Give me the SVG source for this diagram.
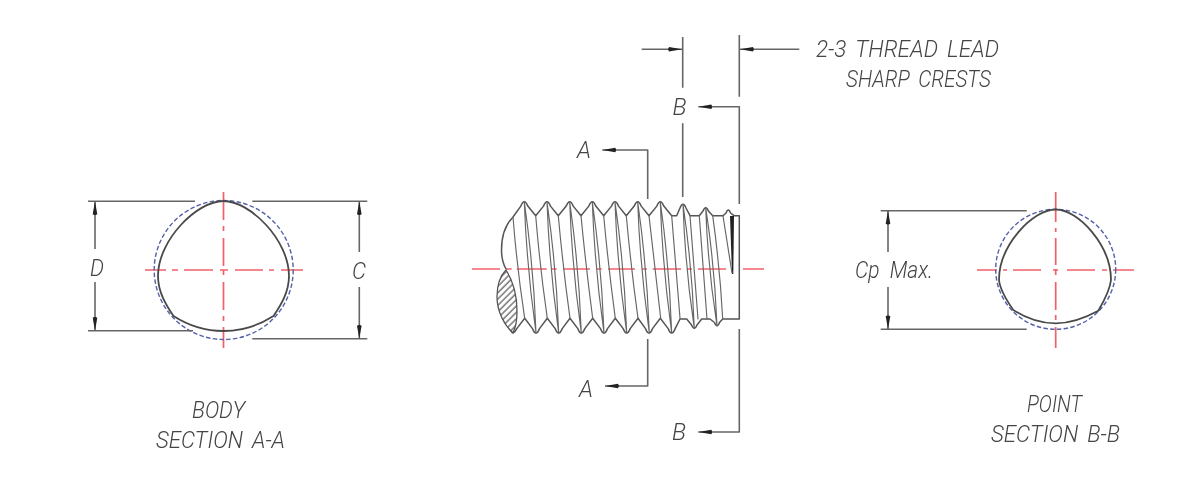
<svg xmlns="http://www.w3.org/2000/svg" width="1200" height="485" viewBox="0 0 1200 485">
<style>
.l{fill:none;stroke:#666;stroke-width:1.6;stroke-linejoin:round;stroke-linecap:butt}
.th{fill:none;stroke:#666;stroke-width:1.15;stroke-linecap:round}
.o{fill:none;stroke:#4a4a4a;stroke-width:1.8;stroke-linejoin:round}
.s{fill:none;stroke:#555;stroke-width:1.5;stroke-linejoin:round}
.c{fill:none;stroke:#f4606a;stroke-width:1.7}
.d{fill:none;stroke:#5560a8;stroke-width:1.4;stroke-dasharray:4.5 2.3}
.t{font-family:Roboto,"Liberation Sans",Arial,sans-serif;font-style:italic;font-weight:300;font-size:24px;fill:#444;word-spacing:4px}
.a{marker-end:url(#ah)}
</style>
<defs>
<marker id="ah" markerUnits="userSpaceOnUse" markerWidth="15" markerHeight="7" refX="14" refY="3.5" orient="auto"><path d="M0 3.500L1 1.200L14 3.500L1 5.800Z" fill="#222"/></marker>
<pattern id="hat" patternUnits="userSpaceOnUse" width="4.500" height="4.500" patternTransform="rotate(-45)"><path d="M0 1H4.500" stroke="#555" stroke-width="1.2"/></pattern>
<filter id="soft" x="-5%" y="-5%" width="110%" height="110%"><feGaussianBlur stdDeviation="0.35"/></filter>
</defs>
<rect width="1200" height="485" fill="#fff"/>
<g id="section-a" filter="url(#soft)">
<path class="c" d="M145 270H166M172 270H178M184 270H213M220 270H228M235 270H263M269 270H274M281 270H303M223.500 192V220M223.500 226V231M223.500 238V266M223.500 270V275M223.500 282V310M223.500 316V321M223.500 327V348"/>
<circle class="d" cx="223.700" cy="270" r="69.500"/>
<path class="o" d="M223.500 201C250 201 289 240 289 276C289 292 281 305 273.500 316C258 326 240 331 223.500 331C207 331 189 326 173.500 316C166 305 158 292 158 276C158 240 197 201 223.500 201Z"/>
<text class="t" x="192" y="418" textLength="53" lengthAdjust="spacingAndGlyphs">BODY</text>
<text class="t" x="156" y="448" textLength="129" lengthAdjust="spacingAndGlyphs">SECTION A-A</text>
</g>
<g id="screw" filter="url(#soft)">
<path class="c" d="M472 269H500M505.700 269H511.700M516.700 269H546.700M551.700 269H556.700M563 269H590M596.700 269H601.700M608 269H635M642 269H647M652.700 269H681M687 269H692M698 269H726M743 269H764"/>
<path fill="url(#hat)" stroke="#555" stroke-width="1.3" d="M506 270C499 277 497 287 497 297C497 312 505 326 513 333C517 325 517 318 517 311C517 296 513 281 506 270Z"/>
<path class="s" d="M506 269C502 262 501.500 256 501.500 250C501.500 235 506 224 513 217L520.800 206.100Q524.300 197.300 527.800 206.100L535.700 215.700L543.500 206.100Q547 197.300 550.500 206.100L558.300 215.700L566.200 206.100Q569.700 197.300 573.200 206.100L581 215.700L588.800 206.100Q592.300 197.300 595.800 206.100L603.700 215.700L611.500 206.100Q615 197.300 618.500 206.100L626.300 215.700L634.200 206.100Q637.700 197.300 641.200 206.100L649 215.700L656.800 206.100Q660.300 197.300 663.800 206.100L671.700 215.700L676.700 215.700L680 208Q683 200.600 686 208L690 215.700L699.300 215.700L703 211Q705.700 204.400 708.400 211L712.700 215.700L723 215.700L726 213Q728.300 207 730.600 213L734 215.700L739.300 215.700V319H722.700L719.500 322.500Q717 329 714.500 322.500L710 319H701.700L697 325Q694.300 331.600 691.600 325L686.700 319H680L675.200 328.600Q671.700 337.400 668.200 328.600L660.300 318.300L652.500 328.600Q649 337.400 645.500 328.600L638 318.300L630.200 328.600Q626.700 337.400 623.200 328.600L615.300 318.300L607.500 328.600Q604 337.400 600.500 328.600L592.700 318.300L584.800 328.600Q581.300 337.400 577.800 328.600L570 318.300L562.200 328.600Q558.700 337.400 555.200 328.600L547.300 318.300L539.500 328.600Q536 337.400 532.500 328.600L524.700 318.300L516.800 328.600Q513.300 335.500 511 331"/>
<path class="th" d="M513 217Q517 268 524.700 318.300M535.700 215.700Q540 268 547.300 318.300M558.300 215.700Q563 268 570 318.300M581 215.700Q586 268 592.700 318.300M603.700 215.700Q608.500 268 615.300 318.300M626.300 215.700Q631 268 638 318.300M649 215.700Q655 268 660.700 318.300M671.700 215.700Q676 268 680 318.300M690 215.700Q694 268 698 319M699.300 215.700Q703 268 707 319M712.700 215.700Q720 268 722.700 319"/>
<path class="th" d="M524.300 202Q526.700 267 536 333M524.300 202Q533.700 267 536 333M547 202Q549.300 267 558.700 333M547 202Q556.400 267 558.700 333M569.700 202Q572 267 581.300 333M569.700 202Q579 267 581.300 333M592.300 202Q594.600 267 604 333M592.300 202Q601.700 267 604 333M615 202Q617.300 267 626.700 333M615 202Q624.400 267 626.700 333M637.700 202Q640 267 649.300 333M637.700 202Q647 267 649.300 333M660.300 202Q662.500 267 671.700 333M660.300 202Q669.500 267 671.700 333M683 204.300Q685.100 267 694.300 328.300M683 204.300Q692.200 267 694.300 328.300M705.700 207.700Q707.800 267 717 325.700M705.700 207.700Q714.800 267 717 325.700"/>
<path d="M730 216L734 216L733.300 274L732 274Z" fill="#222"/>
<path class="th" d="M723 216L732 273"/>
</g>
<g id="section-b" filter="url(#soft)">
<path class="c" d="M977 270H997M1003 270H1007M1013 270H1041M1053 270H1058M1067 270H1095M1102 270H1107M1113 270H1134M1055.700 192V222M1055.700 228V232M1055.700 238V265M1055.700 269V275M1055.700 282V310M1055.700 315V320M1055.700 327V348"/>
<circle class="d" cx="1055.700" cy="269.300" r="60"/>
<path class="o" d="M1055.700 209.500C1078 209.500 1111 245 1111 280C1110 290 1104 301 1098.300 310.700C1085 318 1070 323.300 1055.700 323.300C1041 323.300 1026 318 1013.300 310C1007 301 1000 290 999 280C999 245 1033 209.500 1055.700 209.500Z"/>
<text class="t" x="1027" y="412" textLength="55" lengthAdjust="spacingAndGlyphs">POINT</text>
<text class="t" x="991" y="442" textLength="129" lengthAdjust="spacingAndGlyphs">SECTION B-B</text>
</g>
<g id="connectors" filter="url(#soft)">
<path class="l" d="M88 201.300H195M88 330.700H193M252.300 201.300H367.300M252.300 338.700H367.300M880.700 210.700H1026.700M880.700 329.300H1026.700"/>
<path class="l a" d="M95 249V201.300"/><path class="l a" d="M95 282V330.700"/>
<path class="l a" d="M359.300 252V201.300"/><path class="l a" d="M359.300 287V338.700"/>
<path class="l a" d="M888 252V210.700"/><path class="l a" d="M888 287V329.300"/>
<path class="l" d="M682.700 37V87.700M682.700 123.300V197M739.300 35V96.700"/>
<path class="l a" d="M641.700 49.300H682"/><path class="l a" d="M799.300 49.300H740"/>
<path class="l a" d="M739.300 204V106.700H698.300"/>
<path class="l a" d="M647.700 199V150H602.300"/>
<path class="l a" d="M647.700 339V386H605"/>
<path class="l a" d="M739.300 329V432H698.300"/>
</g>
<g id="labels" filter="url(#soft)">
<text class="t" x="816" y="57.300" textLength="183" lengthAdjust="spacingAndGlyphs">2-3 THREAD LEAD</text>
<text class="t" x="846" y="86.700" textLength="145" lengthAdjust="spacingAndGlyphs">SHARP CRESTS</text>
<text class="t" x="672.500" y="115" textLength="14" lengthAdjust="spacingAndGlyphs">B</text>
<text class="t" x="577" y="157.700" textLength="14" lengthAdjust="spacingAndGlyphs">A</text>
<text class="t" x="579" y="397" textLength="14" lengthAdjust="spacingAndGlyphs">A</text>
<text class="t" x="672" y="440" textLength="14" lengthAdjust="spacingAndGlyphs">B</text>
<text class="t" x="90" y="276" textLength="14" lengthAdjust="spacingAndGlyphs">D</text>
<text class="t" x="352" y="279" textLength="14" lengthAdjust="spacingAndGlyphs">C</text>
<text class="t" x="855" y="278" textLength="78" lengthAdjust="spacingAndGlyphs" xml:space="preserve" style="word-spacing:0">Cp  Max.</text>
</g>
</svg>
